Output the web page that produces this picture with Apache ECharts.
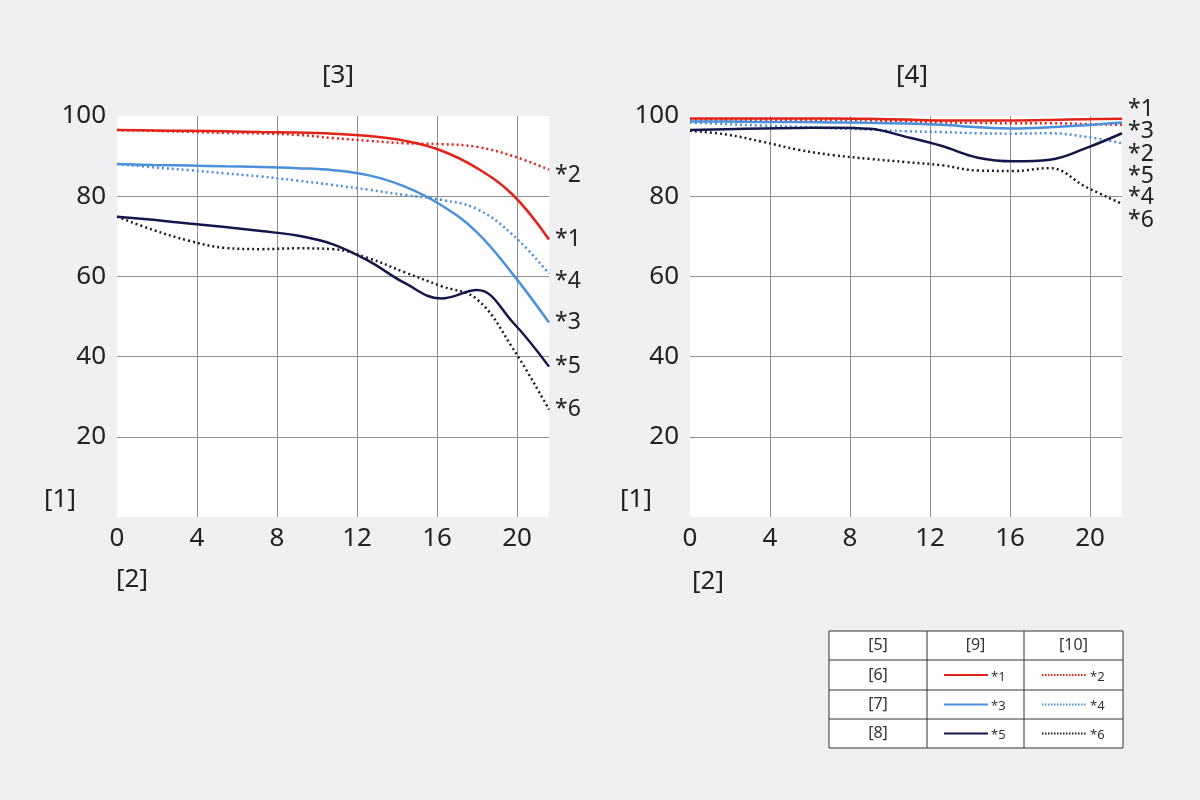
<!DOCTYPE html>
<html>
<head>
<meta charset="utf-8">
<script src="https://cdn.jsdelivr.net/npm/echarts@6/dist/echarts.min.js"></script>
<style>
  html, body { margin: 0; padding: 0; background: #f0f0f2; }
  #chart { width: 1200px; height: 800px; }
</style>
</head>
<body>
<div id="chart"></div>
<script>
// x positions (distance from centre), evenly spaced, and y values (contrast %)
const posX = [0, 1.8, 3.6, 5.4, 7.2, 9, 10.8, 12.6, 14.4, 16.2, 18, 19.8, 21.6]

const left1 = [96.5, 96.4, 96.3, 96.2, 96.0, 95.9, 95.6, 95.0, 93.8, 91.4, 87.0, 80.3, 69.2]
const left2 = [96.5, 96.3, 96.05, 95.8, 95.65, 95.3, 94.5, 93.8, 93.2, 93.0, 92.3, 90.0, 86.6]
const left3 = [88.0, 87.8, 87.65, 87.45, 87.3, 87.0, 86.5, 85.2, 82.4, 77.8, 71.0, 60.5, 48.5]
const left4 = [88.0, 87.2, 86.5, 85.7, 84.9, 83.9, 82.8, 81.6, 80.3, 79.1, 76.8, 70.3, 60.7]
const left5 = [74.9, 74.1, 73.2, 72.3, 71.3, 70.2, 68.0, 63.8, 58.3, 54.5, 56.6, 48.5, 37.5]
const left6 = [74.9, 71.6, 68.9, 67.1, 66.8, 67.0, 66.8, 64.5, 61.0, 57.6, 54.3, 42.0, 26.8]

const right1 = [99.4, 99.4, 99.4, 99.4, 99.4, 99.3, 99.1, 98.9, 98.9, 98.9, 99.0, 99.2, 99.3]
const right2 = [99.0, 99.0, 99.0, 99.0, 99.0, 98.9, 98.7, 98.4, 98.3, 98.2, 98.2, 98.0, 97.8]
const right3 = [98.6, 98.6, 98.5, 98.5, 98.4, 98.3, 98.1, 97.8, 97.2, 96.9, 97.2, 97.7, 98.4]
const right4 = [98.4, 98.0, 97.6, 97.3, 96.9, 96.6, 96.2, 96.0, 95.7, 95.6, 95.7, 94.8, 93.2]
const right5 = [96.5, 96.7, 96.9, 97.0, 97.1, 96.8, 94.8, 92.5, 89.6, 88.7, 89.1, 92.0, 95.7]
const right6 = [96.3, 95.4, 93.6, 91.6, 90.2, 89.3, 88.5, 87.7, 86.4, 86.3, 87.0, 82.3, 78.1]

const xTicks = [0, 4, 8, 12, 16, 20]
const yTicks = [20, 40, 60, 80, 100]

const RED = '#e2231a'
const BLUE = '#4a90dc'
const NAVY = '#14164a'
const BLACK = '#1c1c2c'
const FONT = 'Noto Sans'

const pairs = (xs, ys) => xs.map((x, i) => [x, ys[i]])

function line (name, idx, ys, color, dotted, labelDy) {
  return {
    name: name,
    type: 'line',
    xAxisIndex: idx,
    yAxisIndex: idx,
    smooth: 0.4,
    symbol: 'none',
    data: pairs(posX, ys),
    lineStyle: { color: color, width: 2.5, type: dotted ? [2, 3] : 'solid' },
    endLabel: {
      show: true,
      formatter: name,
      color: '#222',
      fontFamily: FONT,
      fontSize: 23,
      distance: 6,
      offset: [0, labelDy]
    },
    z: dotted ? 3 : 4
  }
}

function xAxis (idx) {
  return {
    type: 'value', gridIndex: idx, min: 0, max: 21.6, interval: 4,
    axisLine: { show: false }, axisTick: { show: false },
    axisLabel: {
      color: '#222', fontFamily: FONT, fontSize: 26, margin: 9,
      showMaxLabel: false,
      formatter: v => (xTicks.indexOf(v) >= 0 ? String(v) : '')
    },
    splitLine: {
      show: true,
      lineStyle: { color: ['rgba(0,0,0,0)', '#8e8e96', '#8e8e96', '#8e8e96', '#8e8e96', '#8e8e96', 'rgba(0,0,0,0)'], width: 1 }
    }
  }
}

function yAxis (idx) {
  return {
    type: 'value', gridIndex: idx, min: 0, max: 100, interval: 20,
    axisLine: { show: false }, axisTick: { show: false },
    axisLabel: {
      color: '#222', fontFamily: FONT, fontSize: 26, margin: 11,
      formatter: v => (yTicks.indexOf(v) >= 0 ? String(v) : '')
    },
    splitLine: {
      show: true,
      lineStyle: { color: ['rgba(0,0,0,0)', '#8e8e96', '#8e8e96', '#8e8e96', '#8e8e96', 'rgba(0,0,0,0)'], width: 1 }
    }
  }
}

// legend table
const tx = [829, 927, 1024, 1123]
const ty = [631, 660, 690, 719, 748]
const table = []
table.push({ type: 'rect', shape: { x: 829, y: 631, width: 294, height: 117 }, style: { fill: '#fff', stroke: '#333', lineWidth: 1 } })
tx.slice(1, 3).forEach(x => table.push({ type: 'line', shape: { x1: x, y1: 631, x2: x, y2: 748 }, style: { stroke: '#333', lineWidth: 1 } }))
ty.slice(1, 4).forEach(y => table.push({ type: 'line', shape: { x1: 829, y1: y, x2: 1123, y2: y }, style: { stroke: '#333', lineWidth: 1 } }))
const heads = ['[5]', '[9]', '[10]']
heads.forEach((t, i) => table.push({
  type: 'text', x: (tx[i] + tx[i + 1]) / 2, y: 645,
  style: { text: t, font: '16px "Noto Sans"', fill: '#333', align: 'center', verticalAlign: 'middle' }
}))
const rowNames = ['[6]', '[7]', '[8]']
const rowColors = [RED, BLUE, NAVY]
const dotColors = [RED, BLUE, BLACK]
rowNames.forEach((t, r) => {
  const cy = (ty[r + 1] + ty[r + 2]) / 2
  table.push({ type: 'text', x: 878, y: cy, style: { text: t, font: '16px "Noto Sans"', fill: '#333', align: 'center', verticalAlign: 'middle' } })
  table.push({ type: 'line', shape: { x1: 944, y1: cy, x2: 988, y2: cy }, style: { stroke: rowColors[r], lineWidth: 2 } })
  table.push({ type: 'text', x: 991, y: cy + 2, style: { text: '*' + (2 * r + 1), font: '13px "Noto Sans"', fill: '#333', verticalAlign: 'middle' } })
  table.push({ type: 'line', shape: { x1: 1042, y1: cy, x2: 1087, y2: cy }, style: { stroke: dotColors[r], lineWidth: 2, lineDash: [1.5, 1.5] } })
  table.push({ type: 'text', x: 1090, y: cy + 2, style: { text: '*' + (2 * r + 2), font: '13px "Noto Sans"', fill: '#333', verticalAlign: 'middle' } })
})

const axisText = [
  { x: 60, y: 500, t: '[1]' }, { x: 132, y: 580, t: '[2]' },
  { x: 636, y: 500, t: '[1]' }, { x: 708, y: 582, t: '[2]' }
].map(o => ({
  type: 'text', x: o.x, y: o.y,
  style: { text: o.t, font: '26px "Noto Sans"', fill: '#222', align: 'center', verticalAlign: 'middle' }
}))

const chart = echarts.init(document.getElementById('chart'))
chart.setOption({
  backgroundColor: '#f0f0f2',
  animation: false,
  title: [
    { text: '[3]', left: 333, top: 58, textAlign: 'center', textStyle: { fontFamily: FONT, fontSize: 26, fontWeight: 'normal', color: '#222' } },
    { text: '[4]', left: 907, top: 58, textAlign: 'center', textStyle: { fontFamily: FONT, fontSize: 26, fontWeight: 'normal', color: '#222' } }
  ],
  grid: [
    { left: 117, top: 116, width: 432, height: 401, show: true, backgroundColor: '#fff', borderWidth: 0 },
    { left: 690, top: 116, width: 432, height: 401, show: true, backgroundColor: '#fff', borderWidth: 0 }
  ],
  xAxis: [xAxis(0), xAxis(1)],
  yAxis: [yAxis(0), yAxis(1)],
  series: [
    line('*1', 0, left1, RED, false, 0),
    line('*2', 0, left2, RED, true, 6),
    line('*3', 0, left3, BLUE, false, 0),
    line('*4', 0, left4, BLUE, true, 8),
    line('*5', 0, left5, NAVY, false, 0),
    line('*6', 0, left6, BLACK, true, 0),
    line('*1', 1, right1, RED, false, -9),
    line('*2', 1, right2, RED, true, 30),
    line('*3', 1, right3, BLUE, false, 9),
    line('*4', 1, right4, BLUE, true, 54),
    line('*5', 1, right5, NAVY, false, 43),
    line('*6', 1, right6, BLACK, true, 17)
  ],
  graphic: axisText.concat(table)
})
</script>
</body>
</html>
